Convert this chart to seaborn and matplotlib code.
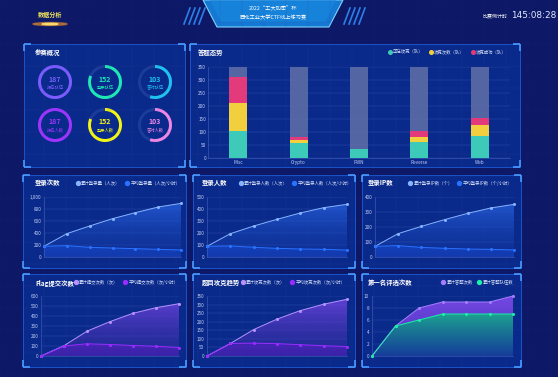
import numpy as np
import matplotlib
matplotlib.use("Agg")
import matplotlib.pyplot as plt
from matplotlib.patches import Wedge, Rectangle, Polygon, Ellipse
from matplotlib.lines import Line2D
from matplotlib.colors import LinearSegmentedColormap, to_rgba
from matplotlib.ticker import FuncFormatter
import seaborn as sns

# ---------------- data ----------------
ring_labels = ["报名队伍", "登录队伍", "答对队伍", "报名人数", "登录人数", "答对人数"]
ring_values = [187, 152, 103, 187, 152, 103]
ring_total = 187

categories = ["Misc", "Crypto", "PWN", "Reverse", "Web"]
bar_capacity = [350, 350, 350, 350, 350]
solving = [105, 58, 33, 60, 85]
attempts = [105, 12, 0, 21, 42]
solved = [100, 10, 0, 21, 28]
bar_legend = ["正在攻克（队）", "攻克次数（队）", "攻克成功（队）"]

hours = [0, 1, 2, 3, 4, 5, 6]
login_total = [178, 389, 517, 639, 739, 833, 894]
login_avg = [178, 189, 161, 150, 139, 128, 117]
users_total = [89, 194, 258, 314, 367, 411, 439]
users_avg = [89, 92, 81, 72, 67, 64, 58]
ip_total = [71, 156, 204, 249, 291, 327, 351]
ip_avg = [71, 76, 64, 58, 53, 51, 47]
flag_total = [0, 103, 248, 344, 427, 483, 523]
flag_avg = [0, 100, 122, 115, 105, 97, 85]
solve_total = [0, 73, 154, 215, 265, 302, 331]
solve_avg = [0, 73, 75, 72, 66, 60, 55]
first_attempts = [0, 5, 8, 9, 9, 9, 10]
first_teams = [0, 5, 6, 7, 7, 7, 7]

W, H = 558, 377
BG = "#0d1866"
PANEL = "#0a2c8e"

plt.rcParams["font.family"] = ["Noto Sans CJK SC", "DejaVu Sans"]
plt.rcParams["axes.unicode_minus"] = False

fig = plt.figure(figsize=(W / 100, H / 100), dpi=100, facecolor=BG)

# full-figure canvas in pixel coordinates
bg = fig.add_axes([0, 0, 1, 1], zorder=-5)
bg.set_xlim(0, W)
bg.set_ylim(H, 0)
bg.axis("off")
bg.set_facecolor(BG)

# faint background grid
for gx in range(0, W, 22):
    bg.plot([gx, gx], [0, H], color="#2a3c9a", lw=0.3, alpha=0.3)
for gy in range(0, H, 22):
    bg.plot([0, W], [gy, gy], color="#2a3c9a", lw=0.3, alpha=0.3)


def px_axes(x0, y0, x1, y1):
    return fig.add_axes([x0 / W, 1 - y1 / H, (x1 - x0) / W, (y1 - y0) / H])


def panel(x0, y0, x1, y1):
    bg.add_patch(Rectangle((x0, y0), x1 - x0, y1 - y0, facecolor=PANEL,
                           edgecolor="#1f5fe0", lw=0.6, alpha=0.95))
    c = 7
    for (cx, cy, dx, dy) in [(x0, y0, 1, 1), (x1, y0, -1, 1), (x0, y1, 1, -1), (x1, y1, -1, -1)]:
        bg.plot([cx, cx + dx * c], [cy, cy], color="#4a9bff", lw=1.2, solid_capstyle="butt")
        bg.plot([cx, cx], [cy, cy + dy * c], color="#4a9bff", lw=1.2, solid_capstyle="butt")


def title(x, y, s):
    bg.text(x, y, s, color="white", fontsize=4.6, fontweight="bold", va="center", ha="left")


# ---------------- header ----------------
bg.add_patch(Polygon([(203, 0), (343, 0), (329, 27), (217, 27)], closed=True,
                     facecolor="#1578d2", edgecolor="#7fd6ff", lw=0.8))
bg.add_patch(Polygon([(210, 0), (336, 0), (325, 22), (221, 22)], closed=True,
                     facecolor="#1a8ae0", edgecolor="none", alpha=0.6))
for k in range(4):
    bg.plot([184 + k * 5, 190 + k * 5], [24, 8], color="#2f7fe8", lw=1.2)
    bg.plot([344 + k * 5, 350 + k * 5], [24, 8], color="#2f7fe8", lw=1.2)
bg.text(273, 8.5, "2022“工大加密”杯", color="white", fontsize=3.8, ha="center", va="center")
bg.text(273, 18, "西北工业大学CTF线上练习赛", color="white", fontsize=3.8, ha="center", va="center")
bg.add_patch(Ellipse((50, 24), 34, 3, color="#ff9a20", alpha=0.5))
bg.add_patch(Ellipse((50, 24), 16, 1.5, color="#ffe070", alpha=0.9))
bg.text(50, 15, "数据分析", color="#f2e35c", fontsize=4.4, ha="center", va="center", fontweight="bold")
bg.text(508, 16, "比赛倒计时", color="white", fontsize=3.6, ha="right", va="center")
bg.text(556, 16, "145:08:28", color="#e3ebff", fontsize=6.4, ha="right", va="center",
        family="DejaVu Sans")

# ---------------- panels ----------------
panels = [
    (24, 44, 185, 167), (190, 44, 520, 167),
    (23, 175, 186, 268), (193, 175, 355, 268), (362, 175, 521, 268),
    (23, 274, 186, 367), (193, 274, 355, 367), (362, 274, 521, 367),
]
for p in panels:
    panel(*p)

# ---------------- rings ----------------
title(35, 53, "参赛概况")
ring_colors = ["#7b5cff", "#1ee8b4", "#1fc3ef", "#a033ff", "#f4f414", "#ef86e6"]
ring_centers = [(55, 82), (105, 82), (155, 82), (55, 125), (105, 125), (155, 125)]
for (cx, cy), val, lab, col in zip(ring_centers, ring_values, ring_labels, ring_colors):
    frac = val / ring_total
    bg.add_patch(Wedge((cx, cy), 17, 0, 360, width=3, facecolor="#1b3c98", edgecolor="none"))
    bg.add_patch(Wedge((cx, cy), 17, 270, 270 + 360 * frac, width=3, facecolor=col, edgecolor="none"))
    bg.text(cx, cy - 3, str(val), color=col, fontsize=5, fontweight="bold", ha="center", va="center")
    bg.text(cx, cy + 5, lab, color=col, fontsize=3.1, ha="center", va="center")

# ---------------- bar chart ----------------
title(198, 53, "答题态势")
axb = px_axes(208, 67, 510, 158)
axb.set_facecolor("none")
stack2 = [a + b for a, b in zip(solving, attempts)]
stack3 = [a + b for a, b in zip(stack2, solved)]
sns.barplot(x=categories, y=bar_capacity, ax=axb, color="#5d6ca6", width=0.3, errorbar=None,
            saturation=1, alpha=0.9)
sns.barplot(x=categories, y=stack3, ax=axb, color="#e23a7a", width=0.3, errorbar=None, saturation=1)
sns.barplot(x=categories, y=stack2, ax=axb, color="#f2cf3d", width=0.3, errorbar=None, saturation=1)
sns.barplot(x=categories, y=solving, ax=axb, color="#3ecab8", width=0.3, errorbar=None, saturation=1)
axb.set_ylim(0, 350)
axb.set_yticks(range(0, 351, 50))
axb.grid(axis="y", color="#2a4cb0", lw=0.35)
axb.set_axisbelow(True)
axb.set_xlabel("")
axb.set_ylabel("")
axb.tick_params(axis="both", length=0, labelsize=3.4, labelcolor="#c3cff5", pad=1.5)
for s in ["top", "right"]:
    axb.spines[s].set_visible(False)
for s in ["left", "bottom"]:
    axb.spines[s].set_color("#4463bd")
    axb.spines[s].set_linewidth(0.4)
bar_handles = [Line2D([], [], marker="o", ls="", color=c, markersize=2.6)
               for c in ["#3ecab8", "#f2cf3d", "#e23a7a"]]
axb.legend(bar_handles, bar_legend, loc="center", bbox_to_anchor=(447 / W, 1 - 52 / H),
           bbox_transform=fig.transFigure, ncol=3, frameon=False, fontsize=3.2,
           labelcolor="#d5def8", handletextpad=0.2, columnspacing=1.2, handlelength=1)


# ---------------- line charts ----------------
def gradient_fill(ax, x, y, top, bottom, ymax, z):
    poly = ax.fill_between(x, y, 0, color="none", lw=0)
    path = poly.get_paths()[0]
    cmap = LinearSegmentedColormap.from_list("g", [to_rgba(bottom[0], bottom[1]), to_rgba(top[0], top[1])])
    grad = np.linspace(0, 1, 128).reshape(-1, 1)
    im = ax.imshow(grad, extent=[x[0], x[-1], 0, ymax], origin="lower", aspect="auto",
                   cmap=cmap, zorder=z)
    im.set_clip_path(path, transform=ax.transData)


line_specs = [
    dict(box=(44, 197, 181, 257), title=(35, 183, "登录次数"), leg=(128, 183),
         s1=login_total, s2=login_avg, ymax=1000, step=200,
         names=["累计登录量（人次）", "平均登录量（人次/小时）"], scheme="blue"),
    dict(box=(207, 197, 347, 257), title=(202, 183, "登录人数"), leg=(295, 183),
         s1=users_total, s2=users_avg, ymax=500, step=100,
         names=["累计登录人数（人次）", "平均登录人数（人次/小时）"], scheme="blue"),
    dict(box=(375, 197, 514, 257), title=(368, 183, "登录IP数"), leg=(460, 183),
         s1=ip_total, s2=ip_avg, ymax=400, step=100,
         names=["累计登录IP数（个）", "平均登录IP数（个/小时）"], scheme="blue"),
    dict(box=(41, 296, 179, 356), title=(35, 283, "Flag提交次数"), leg=(126, 282),
         s1=flag_total, s2=flag_avg, ymax=600, step=100,
         names=["累计提交次数（次）", "平均提交次数（次/小时）"], scheme="purple"),
    dict(box=(207, 296, 347, 356), title=(202, 283, "题目攻克趋势"), leg=(293, 282),
         s1=solve_total, s2=solve_avg, ymax=350, step=50,
         names=["累计攻克次数（次）", "平均攻克次数（次/小时）"], scheme="purple"),
    dict(box=(372, 296, 513, 356), title=(368, 283, "第一名评选次数"), leg=(477, 282),
         s1=first_attempts, s2=first_teams, ymax=10, step=2,
         names=["累计答题次数", "累计答题队伍数"], scheme="green"),
]

schemes = {
    "blue": dict(c1="#86b4ff", c2="#2a72ff",
                 f1=(("#2f6cf0", 0.75), ("#123aa8", 0.25)), f2=(("#1d56e6", 0.8), ("#1a48cc", 0.5))),
    "purple": dict(c1="#b592ff", c2="#9a2cff",
                   f1=(("#7446e6", 0.85), ("#3a2aa0", 0.35)), f2=(("#7a22e8", 0.75), ("#5a1cc0", 0.5))),
    "green": dict(c1="#a77dff", c2="#19f0a8",
                  f1=(("#7a4ae8", 0.95), ("#5a34c8", 0.8)), f2=(("#1fcf8a", 1.0), ("#0f3f96", 0.9))),
}

for spec in line_specs:
    sc = schemes[spec["scheme"]]
    ax = px_axes(*spec["box"])
    ax.set_facecolor("none")
    gradient_fill(ax, hours, spec["s1"], sc["f1"][0], sc["f1"][1], spec["ymax"], 1)
    gradient_fill(ax, hours, spec["s2"], sc["f2"][0], sc["f2"][1], spec["ymax"], 2)
    sns.lineplot(x=hours, y=spec["s1"], ax=ax, color=sc["c1"], lw=0.7, marker="o",
                 markersize=2.2, markeredgewidth=0, zorder=4, clip_on=False)
    sns.lineplot(x=hours, y=spec["s2"], ax=ax, color=sc["c2"], lw=0.7, marker="o",
                 markersize=2.2, markeredgewidth=0, zorder=5, clip_on=False)
    ax.set_xlim(hours[0], hours[-1])
    ax.set_ylim(0, spec["ymax"])
    ax.set_yticks(np.arange(0, spec["ymax"] + 0.1, spec["step"]))
    ax.yaxis.set_major_formatter(FuncFormatter(lambda v, p: f"{v:,.0f}"))
    ax.set_xticks([])
    ax.grid(axis="y", color="#2a4cb0", lw=0.35)
    ax.set_axisbelow(True)
    ax.tick_params(axis="y", length=0, labelsize=3.3, labelcolor="#c3cff5", pad=2)
    for s in ["top", "right"]:
        ax.spines[s].set_visible(False)
    for s in ["left", "bottom"]:
        ax.spines[s].set_color("#4463bd")
        ax.spines[s].set_linewidth(0.4)
    tx, ty, ts = spec["title"]
    title(tx, ty, ts)
    handles = [Line2D([], [], marker="o", ls="", color=c, markersize=2.8) for c in [sc["c1"], sc["c2"]]]
    lx, ly = spec["leg"]
    ax.legend(handles, spec["names"], loc="center", bbox_to_anchor=(lx / W, 1 - ly / H),
              bbox_transform=fig.transFigure, ncol=2, frameon=False, fontsize=3.2,
              labelcolor="#d5def8", handletextpad=0.2, columnspacing=1.0, handlelength=1)

fig.savefig("out.png", dpi=100, facecolor=BG)
